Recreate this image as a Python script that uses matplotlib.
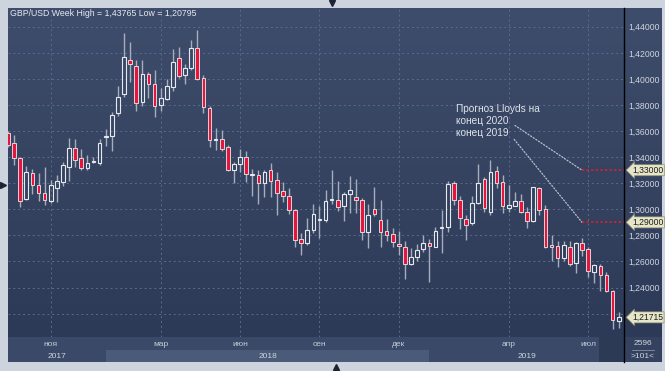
import numpy as np
import matplotlib.pyplot as plt
from matplotlib import transforms
from matplotlib.lines import Line2D
from matplotlib.colors import LinearSegmentedColormap

plt.rcParams['font.family'] = ['Liberation Sans', 'DejaVu Sans']

# GBP/USD weekly bars (101 weeks)
opens = [1.3582, 1.3505, 1.3397, 1.3078, 1.3280, 1.3185, 1.3126, 1.3065, 1.3167, 1.3210,
         1.3326, 1.3474, 1.3390, 1.3318, 1.3361, 1.3359, 1.3556, 1.3564, 1.3735, 1.3888,
         1.4142, 1.4098, 1.3824, 1.4037, 1.3965, 1.3801, 1.3845, 1.3940, 1.4157, 1.4029,
         1.4085, 1.4239, 1.4004, 1.3778, 1.3535, 1.3543, 1.3477, 1.3305, 1.3351, 1.3402,
         1.3262, 1.3267, 1.3201, 1.3298, 1.3227, 1.3137, 1.3106, 1.2996, 1.2774, 1.2741,
         1.2843, 1.2920, 1.2920, 1.3068, 1.3073, 1.3022, 1.3119, 1.3094, 1.3068, 1.2830,
         1.3004, 1.2922, 1.2832, 1.2812, 1.2735, 1.2714, 1.2581, 1.2633, 1.2697, 1.2740,
         1.2714, 1.2858, 1.2863, 1.3203, 1.3073, 1.2927, 1.2894, 1.3050, 1.3229, 1.2978,
         1.3293, 1.3208, 1.3009, 1.3029, 1.3067, 1.2983, 1.2909, 1.3165, 1.3004, 1.2727,
         1.2717, 1.2627, 1.2714, 1.2587, 1.2740, 1.2697, 1.2523, 1.2569, 1.2500, 1.2377,
         1.2141]
highs = [1.3600, 1.3573, 1.3400, 1.3336, 1.3308, 1.3275, 1.3326, 1.3228, 1.3262, 1.3364,
         1.3550, 1.3543, 1.3466, 1.3415, 1.3402, 1.3543, 1.3615, 1.3748, 1.3945, 1.4349,
         1.4282, 1.4149, 1.4144, 1.4055, 1.4067, 1.3927, 1.3996, 1.4226, 1.4247, 1.4111,
         1.4298, 1.43765, 1.4034, 1.3791, 1.3620, 1.3612, 1.3492, 1.3364, 1.3466, 1.3448,
         1.3311, 1.3298, 1.3298, 1.3354, 1.3290, 1.3209, 1.3165, 1.3004, 1.2817, 1.2935,
         1.3042, 1.3029, 1.3145, 1.3298, 1.3214, 1.3132, 1.3252, 1.3234, 1.3086, 1.3040,
         1.3175, 1.3073, 1.2927, 1.2858, 1.2837, 1.2761, 1.2704, 1.2735, 1.2807, 1.2773,
         1.2868, 1.2996, 1.3216, 1.3216, 1.3106, 1.2960, 1.3106, 1.3349, 1.3247, 1.3380,
         1.3330, 1.3264, 1.3190, 1.3131, 1.3119, 1.3016, 1.3175, 1.3170, 1.3034, 1.2807,
         1.2761, 1.2761, 1.2755, 1.2748, 1.2781, 1.2709, 1.2581, 1.2581, 1.2518, 1.2382,
         1.2211]
lows = [1.3480, 1.3338, 1.3019, 1.3070, 1.3120, 1.3065, 1.3031, 1.3050, 1.3057, 1.3180,
        1.3218, 1.3326, 1.3300, 1.3305, 1.3356, 1.3338, 1.3484, 1.3448, 1.3717, 1.3858,
        1.3978, 1.3755, 1.3791, 1.3850, 1.3709, 1.3755, 1.3837, 1.3909, 1.4011, 1.3960,
        1.4067, 1.3991, 1.3740, 1.3479, 1.3453, 1.3446, 1.3295, 1.3203, 1.3287, 1.3210,
        1.3099, 1.3042, 1.3094, 1.3094, 1.2953, 1.3060, 1.2966, 1.2715, 1.2651, 1.2723,
        1.2817, 1.2781, 1.2902, 1.3042, 1.2991, 1.2914, 1.2972, 1.2972, 1.2766, 1.2700,
        1.2952, 1.2714, 1.2761, 1.2714, 1.2653, 1.2466, 1.2576, 1.2607, 1.2671, 1.2441,
        1.2709, 1.2663, 1.2824, 1.3037, 1.2850, 1.2766, 1.2883, 1.3042, 1.2978, 1.2960,
        1.3160, 1.2970, 1.2978, 1.3024, 1.2970, 1.2855, 1.2901, 1.2960, 1.2704, 1.2602,
        1.2556, 1.2607, 1.2569, 1.2510, 1.2645, 1.2479, 1.2433, 1.2377, 1.2364, 1.20795,
        1.2090]
closes = [1.3490, 1.3397, 1.3065, 1.3285, 1.3187, 1.3129, 1.3070, 1.3190, 1.3216, 1.3338,
          1.3474, 1.3382, 1.3318, 1.3356, 1.3367, 1.3505, 1.3564, 1.3727, 1.3858, 1.4165,
          1.4111, 1.3819, 1.4037, 1.3965, 1.3796, 1.3850, 1.3945, 1.4131, 1.4021, 1.4085,
          1.4239, 1.3998, 1.3781, 1.3535, 1.3543, 1.3466, 1.3300, 1.3346, 1.3402, 1.3274,
          1.3273, 1.3201, 1.3285, 1.3221, 1.3127, 1.3099, 1.2996, 1.2766, 1.2741, 1.2843,
          1.2961, 1.2927, 1.3063, 1.3081, 1.3017, 1.3114, 1.3150, 1.3068, 1.2830, 1.2960,
          1.2965, 1.2830, 1.2807, 1.2748, 1.2720, 1.2581, 1.2633, 1.2689, 1.2740, 1.2720,
          1.2837, 1.2865, 1.3195, 1.3075, 1.2934, 1.2881, 1.3050, 1.3200, 1.3011, 1.3285,
          1.3200, 1.3024, 1.3034, 1.3062, 1.2978, 1.2909, 1.3170, 1.2996, 1.2714, 1.2714,
          1.2627, 1.2730, 1.2581, 1.2740, 1.2689, 1.2525, 1.2576, 1.2500, 1.2377, 1.2154,
          1.21715]

# time axis: bar index of the first bar of each labelled month / year
month_labels = ['ноя', 'мар', 'июн', 'сен', 'дек', 'апр', 'июл']
month_bars = [7, 25, 38, 51, 64, 82, 95]
year_labels = ['2017', '2018', '2019']
year_start_bars = [0, 16, 69]

price_levels = [1.22, 1.24, 1.26, 1.28, 1.30, 1.32, 1.34, 1.36, 1.38, 1.40, 1.42, 1.44]

# Lloyds forecasts
forecast_labels = ['конец 2020', 'конец 2019']
forecast_values = [1.33, 1.29]

W, H = 665, 371
BG_TOP, BG_BOT = '#3e4d6b', '#2d3a57'
bg_cmap = LinearSegmentedColormap.from_list('bg', [BG_TOP, BG_BOT])


def box(x0, y0, x1, y1):  # pixel rectangle -> figure fraction
    return [x0 / W, 1 - y1 / H, (x1 - x0) / W, (y1 - y0) / H]


def gradient(a):
    a.imshow(np.linspace(0, 1, 256).reshape(-1, 1), cmap=bg_cmap, extent=(0, 1, 0, 1),
             transform=a.transAxes, aspect='auto', zorder=0)


def fmt(v, nd=5):
    return f'{v:.{nd}f}'.replace('.', ',')


fig = plt.figure(figsize=(W / 100, H / 100), dpi=100, facecolor='#cdd4de')

# right price panel
axr = fig.add_axes(box(624, 8, 662, 337))
gradient(axr)
axr.set_axis_off()

# bottom time panel
axb = fig.add_axes(box(8, 337, 624, 362))
axb.set_facecolor('#3a4968')
for s in axb.spines.values():
    s.set_visible(False)
axb.set_xticks([])
axb.set_yticks([])

# corner box
axc = fig.add_axes(box(624, 337, 662, 362))
axc.set_facecolor('#34425f')
axc.set_xticks([])
axc.set_yticks([])
for s in axc.spines.values():
    s.set_visible(False)
axc.text(0.5, 0.74, '2596', ha='center', va='center', fontsize=6, color='#cfd5df')
axc.plot([0.2, 0.8], [0.5, 0.5], color='#9aa3b3', lw=0.5)
axc.text(0.5, 0.24, '>101<', ha='center', va='center', fontsize=6, color='#cfd5df')
axc.set_xlim(0, 1)
axc.set_ylim(0, 1)

# main chart
ax = fig.add_axes(box(8, 8, 624, 337))
gradient(ax)
for s in ax.spines.values():
    s.set_visible(False)

o = np.array(opens)
h = np.array(highs)
l = np.array(lows)
c = np.array(closes)
idx = np.arange(len(o))
up = c >= o
top = np.maximum(o, c)
bot = np.minimum(o, c)
body = np.maximum(top - bot, 0.0006)

for p in price_levels:
    ax.axhline(p, color='#5b6b8c', lw=0.7, ls=(0, (2, 3)), zorder=1)
for m in month_bars:
    ax.axvline(m, color='#5b6b8c', lw=0.7, ls=(0, (2, 3)), zorder=1)

wick = '#a6aebd'
ax.vlines(idx, top, h, color=wick, lw=1, zorder=2)
ax.vlines(idx, l, bot, color=wick, lw=1, zorder=2)
ax.bar(idx[up], body[up], bottom=bot[up], width=0.6, facecolor='none',
       edgecolor='#e6e9ef', lw=0.8, zorder=3)
ax.bar(idx[~up], body[~up], bottom=bot[~up], width=0.6, facecolor='#e5163d',
       edgecolor='#eeeeee', lw=0.6, zorder=3)

x_right = 100.87
ax.set_xlim(0, x_right)
ax.set_ylim(1.2021, 1.4544)

ax.set_xticks([])
ax.yaxis.tick_right()
ax.set_yticks(price_levels[1:])
ax.set_yticklabels([fmt(p) for p in price_levels[1:]])
ax.tick_params(axis='y', length=0, pad=3, labelsize=6.2, labelcolor='#cfd5df')

ax.text(0.003, 0.982, 'GBP/USD Week High = %s Low = %s' % (fmt(max(highs)), fmt(min(lows))),
        transform=ax.transAxes, ha='left', va='center', fontsize=6.3, color='#e6eaf0')

# forecast annotation
ax.text(73.4, 1.3767, 'Прогноз Lloyds на', ha='left', va='center', fontsize=7.3, color='#dde2ea')
text_y = [1.3675, 1.3587]
for lab, v, ty in zip(forecast_labels, forecast_values, text_y):
    ax.annotate(lab, xy=(94.0, v), xytext=(73.4, ty), ha='left', va='center',
                fontsize=7.3, color='#dde2ea',
                arrowprops=dict(arrowstyle='-', color='#b8c0cc', lw=0.9, ls=(0, (1, 1.5)),
                                relpos=(1, 0.5), shrinkA=3, shrinkB=0))
    ax.hlines(v, 94.0, x_right, color='#e3202b', lw=1.1, ls=(0, (1.5, 1.5)), zorder=4)

# price flags on the axis
blend = transforms.blended_transform_factory(ax.transAxes, ax.transData)
for v in forecast_values + [closes[-1]]:
    ax.text(1.013, v, fmt(v), transform=blend, ha='left', va='center', fontsize=6.2,
            color='#1e1e1e', zorder=6,
            bbox=dict(boxstyle='larrow,pad=0.12', fc='#e6e6c9', ec='#8c8c74', lw=0.5))

# time axis labels
axb.set_xlim(0, x_right)
axb.set_ylim(0, 1)
bounds = year_start_bars[1:] + [x_right]
for i, (lab, s, e) in enumerate(zip(year_labels, year_start_bars, bounds)):
    if i == 1:
        axb.axvspan(s, e, ymin=0, ymax=0.5, color='#4a5a79', lw=0)
    axb.text((s + e) / 2, 0.24, lab, ha='center', va='center', fontsize=6, color='#cfd5df')
axb.axvspan(96.8, x_right, color='#2d3a55', lw=0)
for lab, m in zip(month_labels, month_bars):
    axb.text(m, 0.72, lab, ha='center', va='center', fontsize=6, color='#c4ccd8')

# frame decorations
fig.add_artist(Line2D([624 / W] * 2, [1 - 8 / H, 1 - 362 / H], color='black', lw=1))
for x, y, mk in [(332, 3, 'v'), (3, 185, '>'), (336, 367, '^')]:
    fig.add_artist(Line2D([x / W], [1 - y / H], marker=mk, ms=5, color='#1b2335',
                          transform=fig.transFigure))

fig.savefig('out.png', dpi=100, facecolor=fig.get_facecolor())
